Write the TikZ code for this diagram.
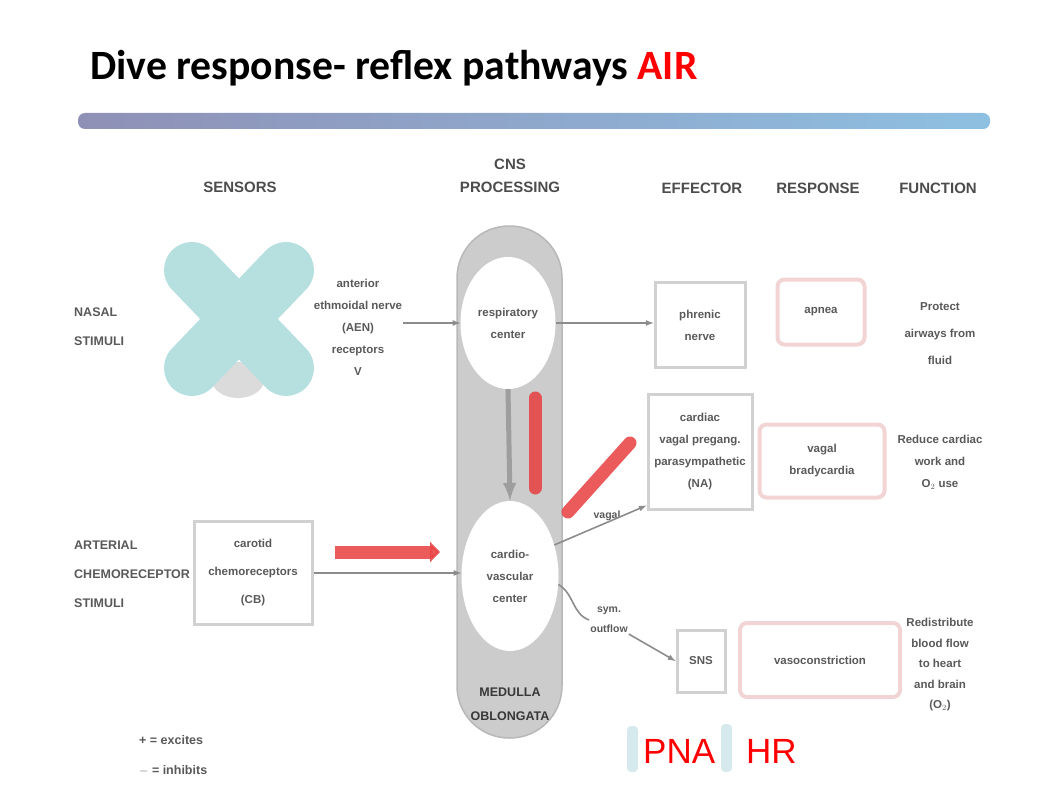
\documentclass[tikz,border=0pt]{standalone}
\usepackage{fontspec}
\setmainfont{Liberation Sans}
\newfontfamily\titlefont{Carlito}
\usetikzlibrary{shapes,arrows,arrows.meta,positioning,calc}
\definecolor{xteal}{RGB}{182,223,224}
\definecolor{barteal}{RGB}{214,233,236}
\definecolor{redbar}{RGB}{232,62,62}
\definecolor{pinkline}{RGB}{242,212,212}
\definecolor{lavender}{RGB}{143,144,182}
\definecolor{skyblue}{RGB}{142,192,226}
\tikzset{
  txt/.style={text=black!65, font=\bfseries\fontsize{11.5}{22}\selectfont, align=center, inner sep=1pt},
  head/.style={text=black!70, font=\bfseries\fontsize{15}{23}\selectfont, align=center},
  side/.style={txt, align=left, anchor=west, font=\bfseries\fontsize{12.5}{29}\selectfont},
  effbox/.style={txt, draw=black!18, line width=3pt, minimum width=90pt, minimum height=85pt},
  respbox/.style={txt, draw=pinkline, line width=4pt, rounded corners=7pt},
  cns/.style={txt, ellipse, fill=white, inner sep=0pt},
  conn/.style={draw=black!45, line width=1.6pt, -latex},
  redline/.style={draw=redbar, opacity=0.85, line width=13pt, line cap=round},
  tealbar/.style={fill=barteal, rounded corners=4pt},
}
\begin{document}
\begin{tikzpicture}[x=1pt,y=-1pt]
\useasboundingbox (0,0) rectangle (1062,797);

% title and bar
\node (title) [anchor=base west, inner sep=0pt, font=\titlefont\bfseries\fontsize{41.7}{44}\selectfont] at (90,80)
  {Dive response- reflex pathways \textcolor{red}{AIR}};
\shade[left color=lavender, right color=skyblue, rounded corners=7pt] (78,113) rectangle (990,129);

% column headers
\node (hsens) [head] at (240,187) {SENSORS};
\node (hcns) [head] at (510,176) {CNS\\PROCESSING};
\node (heff) [head] at (702,188) {EFFECTOR};
\node (hresp) [head] at (818,188) {RESPONSE};
\node (hfunc) [head] at (938,188) {FUNCTION};

% medulla column
\draw[draw=black!28, line width=1.5pt, fill=black!20, rounded corners=52pt] (457,226) rectangle (562,738);
\node (circ1) [cns, minimum width=95pt, minimum height=132pt] at (508,323) {respiratory\\center};
\node (circ2) [cns, minimum width=97pt, minimum height=150pt] at (510,576) {cardio-\\vascular\\center};
\node (medulla) [txt, text=black!78, font=\bfseries\fontsize{12.5}{24}\selectfont] at (510,704) {MEDULLA\\OBLONGATA};

% nasal row
\node (nasal) [side] at (73,327) {NASAL\\STIMULI};
\fill[black!14] (238,380) ellipse (26pt and 18pt);
\draw[xteal, line width=56pt, line cap=round] (192,270) -- (286,368);
\draw[xteal, line width=56pt, line cap=round] (286,270) -- (192,368);
\node (sens1) [txt] at (358,327) {anterior\\ethmoidal nerve\\(AEN)\\receptors\\V};
\node (eff1) [effbox] at (700,325) {phrenic\\nerve};
\node (resp1) [respbox, minimum width=87pt, minimum height=65pt] at (821,312) {apnea};
\node (func1) [txt, font=\bfseries\fontsize{11.5}{27}\selectfont] at (940,334) {Protect\\airways from\\fluid};

% chemoreceptor row
\node (chemo) [side] at (73,574) {ARTERIAL\\CHEMORECEPTOR\\STIMULI};
\node (sens2) [effbox, minimum width=118pt, minimum height=103pt, font=\bfseries\fontsize{11.5}{28}\selectfont] at (253,573) {carotid\\chemoreceptors\\(CB)};
\node (eff2) [effbox, minimum width=104pt, minimum height=115pt] at (700,452) {cardiac\\vagal pregang.\\parasympathetic\\(NA)};
\node (resp2) [respbox, minimum width=125pt, minimum height=73pt] at (822,461) {vagal\\bradycardia};
\node (func2) [txt] at (940,462) {Reduce cardiac\\work and\\O$_2$ use};

% sympathetic row
\node (vagal) [txt, font=\bfseries\fontsize{10.5}{12}\selectfont] at (607,516) {vagal};
\node (sym) [txt, font=\bfseries\fontsize{10.5}{20}\selectfont] at (609,620) {sym.\\outflow};
\node (sns) [effbox, minimum width=48pt, minimum height=62pt] at (701,661) {SNS};
\node (resp3) [respbox, minimum width=160pt, minimum height=74pt] at (820,660) {vasoconstriction};
\node (func3) [txt, font=\bfseries\fontsize{11.5}{20.5}\selectfont] at (940,665) {Redistribute\\blood flow\\to heart\\and brain\\(O$_2$)};

% connectors
\draw[conn] (sens1.east |- circ1.west) -- (circ1.west);
\draw[conn] (circ1.east) -- (circ1.east -| eff1.west);
\draw[conn] (sens2.east) -- (sens2.east -| circ2.west);
\draw[conn, line width=5pt, draw=black!38] (circ1.south) -- (circ2.north);
\draw[conn] (circ2.35) -- (eff2.225);
\draw[draw=black!45, line width=1.6pt] (circ2.-10) to[out=-30, in=160] (sym.west);
\draw[conn] (sym.south east) -- (sns.west);

% red highlights
\draw[redline, -{Triangle[width=20pt,length=10pt]}, line cap=butt] (335,552) -- (440,552);
\draw[redline] (535,398) -- (535,488);
\draw[redline] (568,512) -- (630,443);

% legend
\node (leg1) [txt, anchor=west, font=\bfseries\fontsize{12.5}{14}\selectfont] at (138,740) {+ = excites};
\node (leg2) [txt, anchor=west, font=\bfseries\fontsize{12.5}{14}\selectfont] at (138,770) {$-$ = inhibits};
\fill[tealbar] (627,726) rectangle (638,772);
\fill[tealbar] (721,724) rectangle (732,772);
\node (pna) [anchor=base west, inner sep=0pt, text=red, font=\fontsize{35}{38}\selectfont] at (643,763) {PNA};
\node (hr) [anchor=base west, inner sep=0pt, text=red, font=\fontsize{35}{38}\selectfont] at (746,763) {HR};
\end{tikzpicture}
\end{document}
